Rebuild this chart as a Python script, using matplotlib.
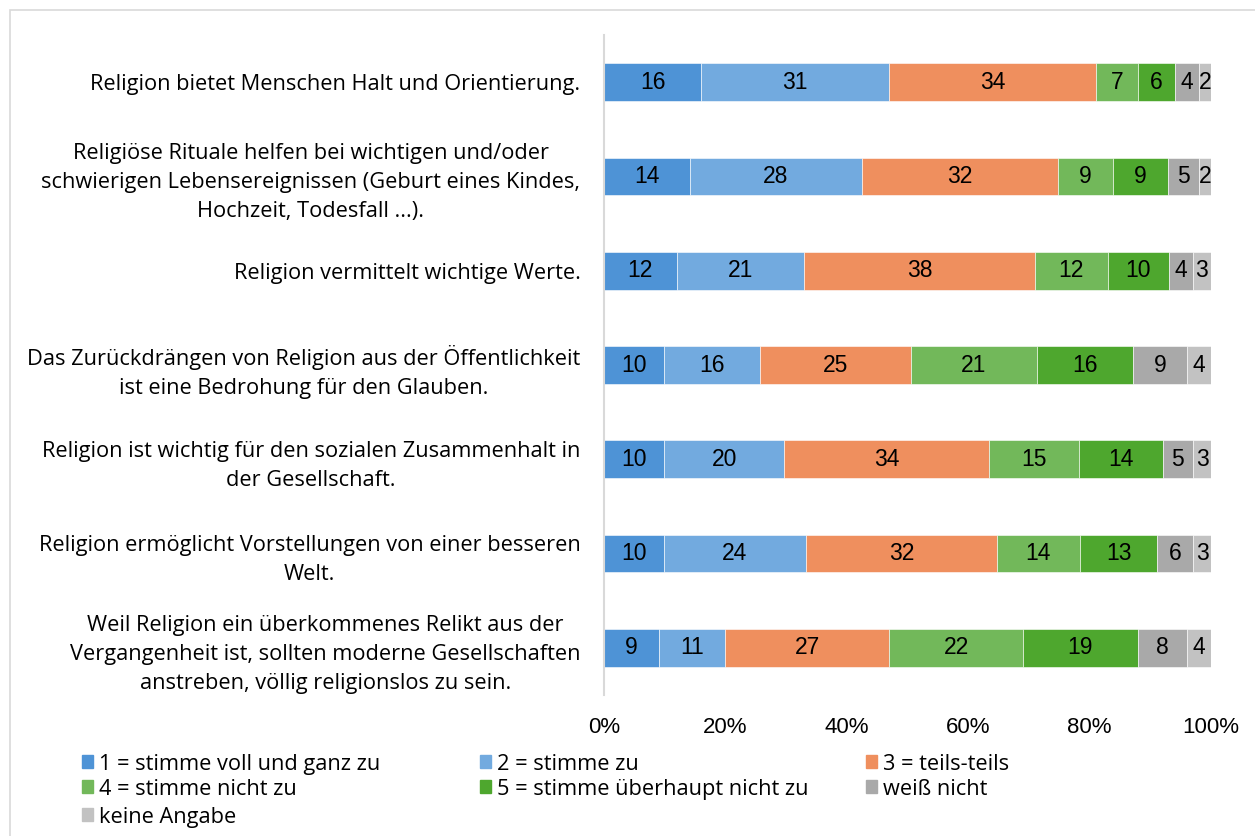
import numpy as np
import matplotlib.pyplot as plt
from matplotlib.patches import Rectangle

# statements (top to bottom) and answer shares in percent
statements = [
    "Religion bietet Menschen Halt und Orientierung.",
    "Religiöse Rituale helfen bei wichtigen und/oder\nschwierigen Lebensereignissen (Geburt eines Kindes,\nHochzeit, Todesfall ...).",
    "Religion vermittelt wichtige Werte.",
    "Das Zurückdrängen von Religion aus der Öffentlichkeit\nist eine Bedrohung für den Glauben.",
    "Religion ist wichtig für den sozialen Zusammenhalt in\nder Gesellschaft.",
    "Religion ermöglicht Vorstellungen von einer besseren\nWelt.",
    "Weil Religion ein überkommenes Relikt aus der\nVergangenheit ist, sollten moderne Gesellschaften\nanstreben, völlig religionslos zu sein.",
]
categories = ["1 = stimme voll und ganz zu", "2 = stimme zu", "3 = teils-teils",
              "4 = stimme nicht zu", "5 = stimme überhaupt nicht zu",
              "weiß nicht", "keine Angabe"]
stimme_voll = [16, 14, 12, 10, 10, 10, 9]
stimme_zu = [31, 28, 21, 16, 20, 24, 11]
teils = [34, 32, 38, 25, 34, 32, 27]
nicht_zu = [7, 9, 12, 21, 15, 14, 22]
ueberhaupt_nicht = [6, 9, 10, 16, 14, 13, 19]
weiss_nicht = [4, 5, 4, 9, 5, 6, 8]
keine_angabe = [2, 2, 3, 4, 3, 3, 4]
colors = ["#4E93D6", "#72AADF", "#EF8F5E", "#72B85A", "#4EA72E", "#A9A9A9", "#C2C2C2"]

series = np.array([stimme_voll, stimme_zu, teils, nicht_zu, ueberhaupt_nicht,
                   weiss_nicht, keine_angabe], dtype=float)
shares = series / series.sum(axis=0) * 100

label_font = "Open Sans"
num_font = "Liberation Sans"
label_size = 15.7

fig = plt.figure(figsize=(12.55, 8.36), dpi=100)
# outer frame of the chart area
fig.patches.append(Rectangle((10 / 1255, -0.5), 2, 1.5 - 10 / 836, transform=fig.transFigure,
                             fill=False, edgecolor="#D9D9D9", linewidth=1.2))

ax = fig.add_axes([604 / 1255, 1 - 695 / 836, (1211 - 604) / 1255, (695 - 35) / 836])
y = np.arange(len(statements))
left = np.zeros(len(statements))
for i in range(len(categories)):
    bars = ax.barh(y, shares[i], left=left, height=0.4, color=colors[i],
                   edgecolor="white", linewidth=0.4)
    ax.bar_label(bars, labels=[str(int(v)) for v in series[i]], label_type="center",
                 fontsize=16.5, family=num_font, color="black")
    left += shares[i]

ax.set_xlim(0, 100)
ax.set_ylim(len(statements) - 0.5, -0.5)
ax.set_xticks(np.arange(0, 101, 20))
ax.set_xticklabels([f"{t}%" for t in range(0, 101, 20)], family=num_font, fontsize=16)
ax.set_yticks(y)
ax.set_yticklabels(statements, family=label_font, fontsize=label_size,
                   multialignment="center", linespacing=1.5)
ax.tick_params(axis="both", length=0)
ax.tick_params(axis="y", pad=17)
ax.tick_params(axis="x", pad=16)
for s in ["top", "right", "bottom"]:
    ax.spines[s].set_visible(False)
ax.spines["left"].set_color("#D9D9D9")
ax.spines["left"].set_linewidth(1.5)

# legend laid out row by row like the original
col_x = [82, 480, 866]
row_y = [762, 787, 815]
for i, name in enumerate(categories):
    cx = col_x[i % 3] / 1255
    cy = 1 - row_y[i // 3] / 836
    fig.patches.append(Rectangle((cx, cy - 6 / 836), 11 / 1255, 13 / 836,
                                 transform=fig.transFigure, color=colors[i]))
    fig.text(cx + 17 / 1255, cy, name, family=label_font, fontsize=label_size,
             va="center_baseline", ha="left")

fig.savefig("out.png", dpi=100)
